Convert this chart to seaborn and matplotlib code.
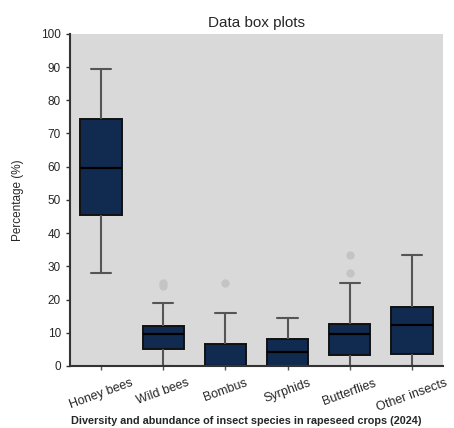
import seaborn as sns
import pandas as pd
import matplotlib.pyplot as plt

# Sample values per group (min/whisker, Q1, median, Q3, whisker, outliers)
honey_bees = [28, 35, 40, 45.5, 50, 55, 59.5, 65, 70, 74.5, 80, 85, 89.5]
wild_bees = [0, 2, 4, 5, 7, 8, 9.5, 10, 11, 12, 19, 24, 25]
bombus = [0, 0, 0, 0, 0, 0, 0, 3, 5, 6.5, 10, 16, 25]
syrphids = [0, 0, 0, 0, 2, 3, 4.3, 5, 6, 8, 10, 12, 14.3]
butterflies = [0, 1, 2, 3.3, 5, 7, 9.7, 10, 11, 12.5, 25, 28, 33.3]
other_insects = [0, 1, 2, 3.6, 6, 9, 12.2, 14, 16, 17.8, 22, 28, 33.3]

groups = ["Honey bees", "Wild bees", "Bombus", "Syrphids", "Butterflies", "Other insects"]
values = [honey_bees, wild_bees, bombus, syrphids, butterflies, other_insects]

df = pd.DataFrame({
    "Group": [g for g, v in zip(groups, values) for _ in v],
    "Percentage": [x for v in values for x in v],
})

sns.set_style("white")
plt.rcParams["font.family"] = ["Liberation Sans", "DejaVu Sans"]

fig = plt.figure(figsize=(4.54, 4.28), dpi=100)
ax = fig.add_axes([0.154, 0.145, 0.822, 0.776])
ax.set_facecolor("#d9d9d9")

sns.boxplot(
    data=df, x="Group", y="Percentage", order=groups, ax=ax,
    color="#112b50", width=0.66, linewidth=1.4,
    boxprops=dict(edgecolor="#111111", facecolor="#112b50"),
    medianprops=dict(color="#000000", linewidth=1.6),
    whiskerprops=dict(color="#555555", linewidth=1.5),
    capprops=dict(color="#555555", linewidth=1.5),
    flierprops=dict(marker="o", markerfacecolor="#c4c4c4", markeredgecolor="none", markersize=6),
)

ax.set_ylim(0, 100)
ax.set_xlim(-0.5, 5.5)
ax.set_yticks(range(0, 101, 10))
ax.tick_params(axis="y", which="both", left=True, length=3, width=1, color="#333333", labelsize=8.5)
ax.tick_params(axis="x", bottom=True, length=3, width=1, color="#555555", labelsize=9, pad=5)
for lbl in ax.get_xticklabels():
    lbl.set_rotation(20)
    lbl.set_ha("center")

for side in ["top", "right"]:
    ax.spines[side].set_visible(False)
for side in ["left", "bottom"]:
    ax.spines[side].set_color("#333333")
    ax.spines[side].set_linewidth(1.5)

ax.set_title("Data box plots", fontsize=11, pad=5)
ax.set_ylabel("Percentage (%)", fontsize=8.5, labelpad=12)
ax.set_xlabel("")
fig.text(0.542, 0.016, "Diversity and abundance of insect species in rapeseed crops (2024)",
         fontsize=7.8, fontweight="bold", ha="center", va="center")

fig.savefig("out.png", dpi=100)
